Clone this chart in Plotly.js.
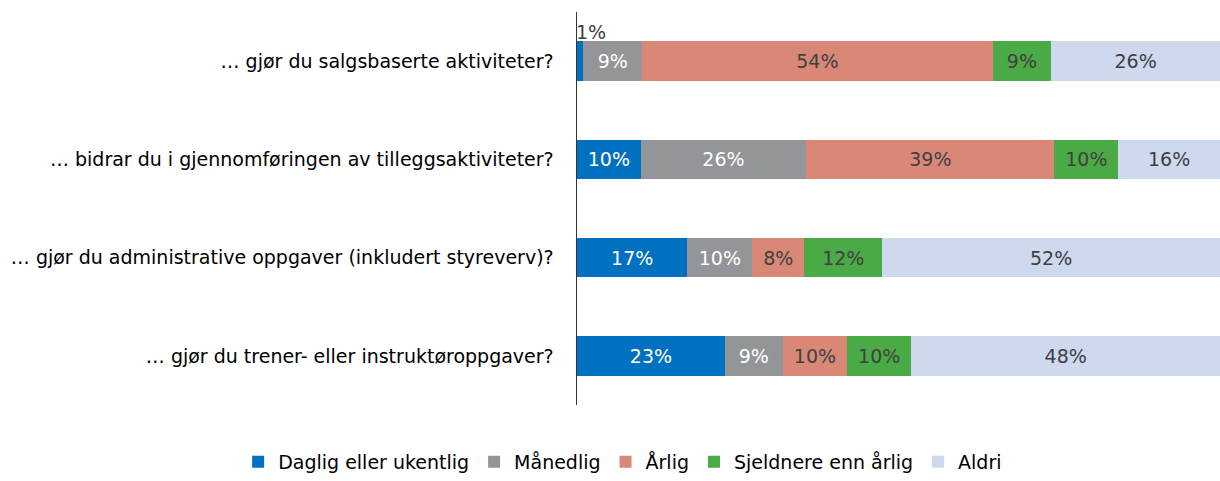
<!DOCTYPE html>
<html>
<head>
<meta charset="utf-8">
<script src="https://cdn.plot.ly/plotly-3.0.1.min.js"></script>
<style>html,body{margin:0;padding:0;background:#fff;}#chart{width:1220px;height:481px;}</style>
</head>
<body>
<div id="chart"></div>
<script>
const categories = [
  "… gjør du salgsbaserte aktiviteter?",
  "… bidrar du i gjennomføringen av tilleggsaktiviteter?",
  "… gjør du administrative oppgaver (inkludert styreverv)?",
  "… gjør du trener- eller instruktøroppgaver?"
];
const seriesNames = ["Daglig eller ukentlig", "Månedlig", "Årlig", "Sjeldnere enn årlig", "Aldri"];
const daglig    = [1, 10, 17, 23];
const manedlig  = [9, 26, 10, 9];
const arlig     = [54, 39, 8, 10];
const sjeldnere = [9, 10, 12, 10];
const aldri     = [26, 16, 52, 48];
const seriesValues = [daglig, manedlig, arlig, sjeldnere, aldri];
const colors = ["#0070C0", "#939598", "#D98877", "#4AAA46", "#CED8EF"];
const textColors = ["#FFFFFF", "#FFFFFF", "#404040", "#404040", "#404040"];
const FONT = "DejaVu Sans";

const traces = seriesValues.map((vals, i) => ({
  type: "bar",
  orientation: "h",
  name: seriesNames[i],
  y: categories,
  x: vals,
  marker: {color: colors[i], line: {width: 0}},
  text: vals.map(v => (i === 0 && v < 3) ? "" : v + "%"),
  textposition: "inside",
  insidetextanchor: "middle",
  textangle: 0,
  constraintext: "none",
  textfont: {family: FONT, size: 19, color: textColors[i]},
  hoverinfo: "name+x"
}));

// small first-segment labels drawn above the bar
const annotations = [];
daglig.forEach((v, k) => {
  if (v < 3) {
    annotations.push({
      x: 0, y: categories[k], xref: "x", yref: "y",
      text: v + "%", showarrow: false, xanchor: "left", yanchor: "bottom",
      yshift: 16, xshift: -3,
      font: {family: FONT, size: 19, color: "#404040"}
    });
  }
});

const layout = {
  width: 1220, height: 481,
  margin: {l: 577, r: 0, t: 12, b: 74, pad: 0},
  barmode: "stack",
  barnorm: "percent",
  bargap: 0.6,
  paper_bgcolor: "#FFFFFF",
  plot_bgcolor: "#FFFFFF",
  showlegend: true,
  legend: {
    orientation: "h",
    xref: "paper", yref: "paper",
    x: -0.527, xanchor: "left", y: -0.145, yanchor: "middle",
    font: {family: FONT, size: 19, color: "#000000"},
    traceorder: "normal", itemwidth: 30
  },
  xaxis: {range: [0, 100], showgrid: false, zeroline: false, showline: false, showticklabels: false, ticks: "", fixedrange: true},
  yaxis: {
    autorange: "reversed", showgrid: false, zeroline: false,
    showline: true, linecolor: "#333333", linewidth: 1.5,
    ticks: "", ticklabelstandoff: 18,
    tickfont: {family: FONT, size: 19, color: "#000000"}
  },
  annotations: annotations
};

Plotly.newPlot("chart", traces, layout, {displayModeBar: false, staticPlot: true});
</script>
</body>
</html>
